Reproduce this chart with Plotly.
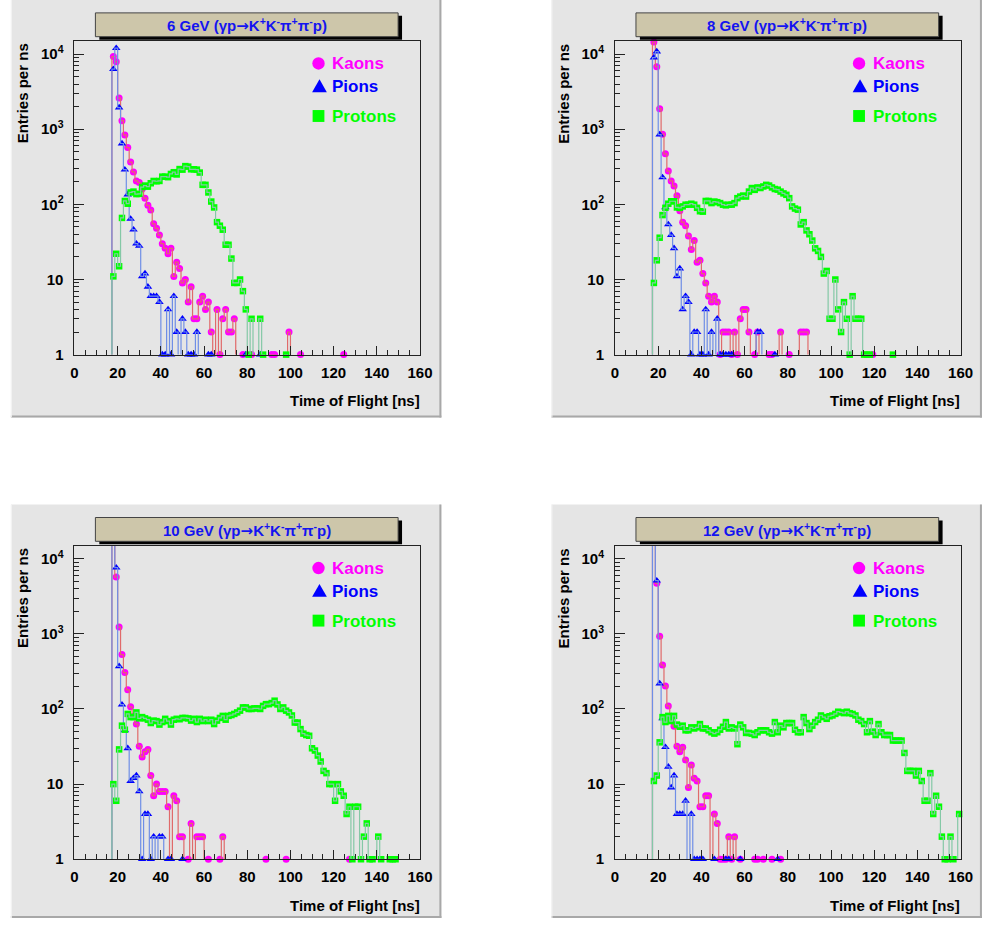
import plotly.graph_objects as go

# ---------------- data (counts per 4/3-ns bin, listed from bin 13 onward) -------------
N_BINS = 120
X_MIN, X_MAX = 0, 160
FIRST_BIN = 13
Y_LOG_MAX = 4.17

ENERGIES = ["6 GeV", "8 GeV", "10 GeV", "12 GeV"]
SPECIES = ["Kaons", "Pions", "Protons"]
X_TICKS = [0, 20, 40, 60, 80, 100, 120, 140, 160]
Y_TICKS = [1, 10, 100, 1000, 10000]
Y_TICK_TEXT = ["1", "10", "10<sup>2</sup>", "10<sup>3</sup>", "10<sup>4</sup>"]

KAONS_6 = [9300, 7900, 2600, 1300, 840, 570, 365, 270, 205, 195,
           160, 121, 97, 84, 55, 48, 39, 30, 26, 22,
           26, 11, 17, 14, 9, 10, 5, 8, 3, 3,
           5, 6, 4, 5, 2, 0, 4, 1, 3, 4,
           2, 2, 3, 0, 0, 1, 0, 0, 1, 0,
           0, 0, 0, 0, 0, 1, 1, 0, 0, 0,
           0, 2, 0, 0, 0, 1, 0, 0, 0, 0,
           0, 0, 0, 0, 0, 0, 0, 0, 0, 0,
           1]
PIONS_6 = [6300, 12000, 1940, 646, 290, 135, 64, 46, 30, 28,
           11, 12, 8, 6, 6, 6, 5, 1, 1, 4,
           1, 6, 2, 0, 3, 2, 1, 1, 1, 2,
           0, 0, 0, 1, 1, 0, 0, 0, 0, 0,
           0, 0, 0, 0, 0, 0, 1, 0, 0, 0,
           0, 1]
PROTONS_6 = [11, 22, 15, 66, 111, 102, 144, 148, 137, 138,
             170, 178, 172, 191, 205, 203, 205, 234, 234, 230,
             254, 268, 250, 295, 290, 323, 318, 293, 293, 290,
             265, 182, 182, 144, 109, 91, 58, 52, 46, 29,
             29, 19, 9, 9, 10, 7, 4, 1, 3, 0,
             0, 3, 1, 0, 0, 0, 0, 0, 0, 0,
             1]

KAONS_8 = [14500, 6800, 1880, 860, 470, 277, 205, 175, 130, 82,
           58, 52, 38, 25, 33, 17, 18, 12, 9, 6,
           5, 6, 5, 1, 2, 2, 2, 1, 2, 1,
           3, 4, 4, 2, 0, 1, 2, 0, 0, 0,
           1, 1, 0, 0, 2, 0, 0, 1, 0, 0,
           0, 2, 2, 2, 0, 0, 0, 0, 0, 0,
           0, 0, 0, 0, 0, 0, 0, 0, 0, 0,
           0, 0, 0, 0, 0, 0, 1]
PIONS_8 = [9000, 10800, 850, 228, 91, 54, 39, 26, 11, 14,
           4, 6, 5, 1, 2, 2, 1, 1, 4, 1,
           2, 0, 3, 1, 1, 1, 1, 1, 0, 0,
           0, 0, 0, 0, 0, 0, 2, 2, 0, 0,
           0, 0, 1]
PROTONS_8 = [9, 18, 36, 72, 90, 102, 110, 110, 91, 90,
             94, 99, 99, 102, 99, 90, 81, 80, 111, 111,
             104, 109, 107, 104, 99, 97, 99, 99, 104, 121,
             127, 131, 127, 148, 165, 156, 168, 165, 173, 182,
             178, 168, 160, 157, 148, 140, 134, 121, 94, 88,
             85, 54, 58, 45, 40, 33, 26, 24, 20, 12,
             13, 3, 3, 10, 4, 2, 5, 3, 1, 6,
             3, 3, 3, 1, 1, 1, 0, 0, 0, 0,
             0, 0, 0, 1]

KAONS_10 = [30000, 5700, 1230, 530, 305, 180, 107, 80, 63, 32,
            23, 27, 29, 13, 7, 10, 8, 8, 8, 5,
            0, 7, 6, 2, 2, 0, 1, 3, 0, 2,
            2, 2, 0, 1, 0, 0, 0, 1, 2, 0,
            0, 0, 0, 0, 0, 0, 0, 0, 0, 0,
            0, 0, 0, 1, 0, 0, 0, 0, 0, 0,
            1, 0, 0, 0, 0, 0, 0, 0, 0, 0,
            0, 0, 0, 0, 0, 0, 0, 0, 0, 0,
            0, 0, 1]
PIONS_10 = [25000, 7600, 370, 114, 52, 30, 11, 12, 13, 8,
            1, 4, 4, 1, 2, 0, 2, 2, 0, 1,
            1, 0, 0, 0, 1]
PROTONS_10 = [10, 6, 29, 60, 53, 86, 78, 78, 90, 75,
              78, 75, 72, 65, 70, 69, 62, 67, 74, 69,
              62, 72, 74, 73, 76, 76, 75, 70, 74, 67,
              74, 69, 72, 69, 72, 63, 70, 76, 81, 72,
              81, 83, 86, 90, 95, 105, 105, 100, 100, 102,
              102, 100, 110, 116, 116, 120, 129, 115, 100, 105,
              95, 90, 82, 66, 66, 54, 47, 45, 44, 30,
              28, 24, 20, 15, 14, 10, 10, 6, 10, 8,
              7, 4, 5, 1, 5, 5, 1, 2, 3, 1,
              1, 0, 2, 1, 0, 0, 1, 1, 1]

KAONS_12 = [30000, 4700, 930, 385, 203, 110, 75, 59, 32, 27,
            31, 21, 9, 18, 12, 11, 5, 5, 7, 7,
            0, 4, 3, 1, 1, 1, 2, 1, 2, 0,
            1, 0, 0, 0, 0, 1, 1, 0, 1, 0,
            0, 1, 0, 0, 1]
PIONS_12 = [25000, 5100, 218, 75, 31, 17, 9, 13, 4, 4,
            4, 6, 0, 4, 1, 1, 1, 1, 0, 0,
            0, 1, 0, 0, 0, 1, 1, 0, 0, 0,
            1, 0, 0, 0, 0, 0, 0, 0, 0, 0,
            0, 0, 0, 1]
PROTONS_12 = [11, 13, 36, 78, 67, 81, 69, 81, 62, 58,
              60, 52, 52, 57, 55, 57, 63, 55, 55, 52,
              49, 47, 49, 53, 58, 67, 55, 57, 55, 34,
              62, 57, 48, 48, 47, 45, 49, 52, 52, 52,
              49, 47, 67, 49, 60, 57, 65, 65, 65, 53,
              49, 49, 78, 65, 54, 60, 67, 72, 82, 78,
              74, 80, 82, 86, 92, 90, 88, 92, 88, 86,
              82, 72, 69, 63, 49, 69, 50, 45, 63, 49,
              45, 45, 45, 38, 38, 38, 38, 26, 15, 15,
              15, 13, 15, 11, 6, 6, 14, 4, 7, 5,
              2, 1, 1, 2, 1, 0, 4]

PANEL_DATA = [
    [KAONS_6, PIONS_6, PROTONS_6],
    [KAONS_8, PIONS_8, PROTONS_8],
    [KAONS_10, PIONS_10, PROTONS_10],
    [KAONS_12, PIONS_12, PROTONS_12],
]

# ---------------- styling ----------------
W, H = 990, 930
MARKER_COLORS = ["#ff00ff", "#0000ff", "#00ff00"]
LINE_COLORS = ["#e06a6a", "#6f8ee6", "#84c8a6"]
MARKER_SYMBOLS = ["circle", "triangle-up", "square"]
MARKER_SIZES = [7, 7.5, 6.5]
PAD_GRAY = "#e5e5e5"
FONT = "Liberation Sans, Arial, sans-serif"

DX = [0, 550, 0, 550]
DY = [0, 0, 509, 509]
PAD_Y = [(0, 421), (0, 421), (509, 926), (509, 926)]


def px(x):
    return x / W


def py(y):
    return 1 - y / H


def full(values):
    vals = [0] * FIRST_BIN + list(values)
    vals += [0] * (N_BINS - len(vals))
    return vals[:N_BINS]


bw = (X_MAX - X_MIN) / N_BINS
centers = [X_MIN + (i + 0.5) * bw for i in range(N_BINS)]
ymax = 10 ** Y_LOG_MAX

fig = go.Figure()
layout = dict(width=W, height=H, margin=dict(l=0, r=0, t=0, b=0),
              paper_bgcolor="white", plot_bgcolor=PAD_GRAY, showlegend=False)
shapes, annotations = [], []

for p in range(4):
    dx, dy = DX[p], DY[p]
    ax = "" if p == 0 else str(p + 1)
    xref, yref = "x" + ax, "y" + ax
    x0, x1 = 71.7 + dx, 423.3 + dx
    yt, yb = 41.7 + dy, 357.7 + dy

    tickfont = dict(family=FONT, size=15, color="black", weight="bold")
    layout["xaxis" + ax] = dict(
        domain=[px(x0), px(x1)], anchor=yref, range=[X_MIN, X_MAX],
        tickvals=X_TICKS, ticks="inside", ticklen=9, tickcolor="#222",
        tickfont=tickfont, ticklabelstandoff=4,
        minor=dict(tickvals=list(range(5, 160, 5)), ticks="inside", ticklen=5,
                   tickcolor="#222"),
        showgrid=False, zeroline=False, showline=True, linecolor="#222",
        linewidth=1, mirror=True)
    minor_y = [m * 10 ** e for e in range(0, 5) for m in range(2, 10)]
    layout["yaxis" + ax] = dict(
        domain=[py(yb), py(yt)], anchor=xref, type="log", range=[0, Y_LOG_MAX],
        tickvals=Y_TICKS, ticktext=Y_TICK_TEXT, ticks="inside", ticklen=10,
        tickcolor="#222", tickfont=tickfont, ticklabelstandoff=7,
        minor=dict(tickvals=minor_y, ticks="inside", ticklen=5, tickcolor="#222"),
        showgrid=False, zeroline=False, showline=True, linecolor="#222",
        linewidth=1, mirror=True)

    # pad background with bevel border
    pl, pr = 7 + dx, 445 + dx
    ptop, pbot = PAD_Y[p]
    shapes.append(dict(type="rect", xref="paper", yref="paper", layer="below",
                       x0=px(pl), x1=px(pr), y0=py(pbot), y1=py(ptop),
                       fillcolor=PAD_GRAY, line=dict(width=0)))
    shapes.append(dict(type="line", xref="paper", yref="paper", layer="below",
                       x0=px(pl), x1=px(pr), y0=py(pbot - 1), y1=py(pbot - 1),
                       line=dict(color="#a8a8a8", width=2)))
    shapes.append(dict(type="line", xref="paper", yref="paper", layer="below",
                       x0=px(pr - 1), x1=px(pr - 1), y0=py(pbot), y1=py(ptop),
                       line=dict(color="#a8a8a8", width=2)))
    shapes.append(dict(type="line", xref="paper", yref="paper", layer="below",
                       x0=px(pl + 0.5), x1=px(pl + 0.5), y0=py(pbot), y1=py(ptop),
                       line=dict(color="#f4f4f4", width=1)))

    # title box with shadow
    tx0, tx1, ty0, ty1 = 93 + dx, 401 + dx, 13 + dy, 37 + dy
    shapes.append(dict(type="rect", xref="paper", yref="paper", layer="above",
                       x0=px(tx0 + 4), x1=px(tx1 + 4), y0=py(ty1 + 3), y1=py(ty0 + 3),
                       fillcolor="black", line=dict(width=0)))
    shapes.append(dict(type="rect", xref="paper", yref="paper", layer="above",
                       x0=px(tx0), x1=px(tx1), y0=py(ty1), y1=py(ty0),
                       fillcolor="#cdc6aa", line=dict(color="#444", width=1)))
    annotations.append(dict(
        xref="paper", yref="paper", x=px((tx0 + tx1) / 2), y=py((ty0 + ty1) / 2 + 0.5),
        xanchor="center", yanchor="middle", showarrow=False,
        text=(ENERGIES[p] + " (γp<span style=\"font-family:DejaVu Sans\">→</span>"
              "K<sup>+</sup>K<sup>-</sup>π<sup>+</sup>π<sup>-</sup>p)"),
        font=dict(family=FONT, size=15, color="#1414f0", weight="bold")))

    # axis titles
    annotations.append(dict(
        xref="paper", yref="paper", x=px(425 + dx), y=py(404 + dy),
        xanchor="right", yanchor="middle", showarrow=False,
        text="Time of Flight [ns]",
        font=dict(family=FONT, size=15, color="black", weight="bold")))
    annotations.append(dict(
        xref="paper", yref="paper", x=px(19 + dx), y=py(42 + dy),
        xanchor="center", yanchor="top", showarrow=False, textangle=-90,
        text="Entries per ns",
        font=dict(family=FONT, size=15, color="black", weight="bold")))

    # legend (drawn inside pad)
    lx, ly = 320 + dx, [64 + dy, 87 + dy, 117 + dy]
    shapes.append(dict(type="circle", xref="paper", yref="paper", layer="above",
                       x0=px(lx - 6.3), x1=px(lx + 6.3), y0=py(ly[0] + 6.3), y1=py(ly[0] - 6.3),
                       fillcolor=MARKER_COLORS[0], line=dict(width=0)))
    tri = "M {} {} L {} {} L {} {} Z".format(
        px(lx - 7.5 + 1), py(ly[1] + 6), px(lx + 7.5 + 1), py(ly[1] + 6), px(lx + 1), py(ly[1] - 7))
    shapes.append(dict(type="path", xref="paper", yref="paper", layer="above",
                       path=tri, fillcolor=MARKER_COLORS[1], line=dict(width=0)))
    shapes.append(dict(type="rect", xref="paper", yref="paper", layer="above",
                       x0=px(lx - 6), x1=px(lx + 6), y0=py(ly[2] + 6), y1=py(ly[2] - 6),
                       fillcolor=MARKER_COLORS[2], line=dict(width=0)))
    for s in range(3):
        annotations.append(dict(
            xref="paper", yref="paper", x=px(lx + 12), y=py(ly[s] + 0.5),
            xanchor="left", yanchor="middle", showarrow=False, text=SPECIES[s],
            font=dict(family=FONT, size=17, color=MARKER_COLORS[s], weight="bold")))

    # histograms
    for s in range(3):
        vals = full(PANEL_DATA[p][s])
        line_y = [v if v > 0 else 0.1 for v in vals]
        mark_y = [v if 0 < v <= ymax else None for v in vals]
        fig.add_trace(go.Scatter(
            x=centers, y=mark_y, mode="markers", xaxis=xref, yaxis=yref,
            cliponaxis=False, hoverinfo="skip",
            marker=dict(symbol=MARKER_SYMBOLS[s], size=MARKER_SIZES[s],
                        color=MARKER_COLORS[s], line=dict(width=0))))
        fig.add_trace(go.Scatter(
            x=centers, y=line_y, mode="lines", xaxis=xref, yaxis=yref,
            line=dict(shape="hvh", color=LINE_COLORS[s], width=1.2),
            hoverinfo="skip"))

layout["shapes"] = shapes
layout["annotations"] = annotations
fig.update_layout(**layout)
fig.write_html("out.html")
